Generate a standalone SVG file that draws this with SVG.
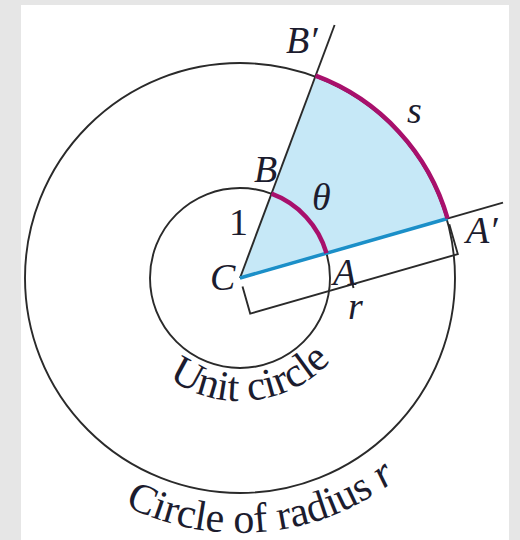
<svg xmlns="http://www.w3.org/2000/svg" width="520" height="540" viewBox="0 0 520 540">
<style>
.ln{fill:none;stroke:#2a2a2a;stroke-width:1.9}
.arc{fill:none;stroke:#a8106c;stroke-width:4.5;stroke-linecap:butt}
.lbl{font-family:"Liberation Serif","Times New Roman",serif;font-size:38px;fill:#1c1c2e}
.cv{font-size:42px}
.it{font-style:italic}
</style>
<defs>
<path id="pUnit" d="M124.4,320.1 A123,123 0 0 0 361.8,295.1"/>
<path id="pOuter" d="M19.2,405.5 A255,255 0 0 0 481.1,361"/>
</defs>
<rect x="0" y="0" width="520" height="540" fill="#e6e6e6"/>
<rect x="21" y="5" width="488" height="535" fill="#ffffff"/>
<g id="sector">
<path d="M240,278 L447.6,218.5 A216,216 0 0 0 315.6,75.7 Z" fill="#c6e8f7"/>
</g>
<g id="circles">
<circle id="unit-circle" cx="240" cy="278" r="90" class="ln"/>
<circle id="outer-circle" cx="240" cy="278" r="215" class="ln"/>
</g>
<g id="connectors">
<line x1="240" y1="278" x2="334.6" y2="25" class="ln"/>
<line x1="240" y1="278" x2="503" y2="202.7" class="ln"/>
<polyline points="242.5,286.6 250.2,313.6 457.8,254.1 449.3,224.3" class="ln"/>
<line x1="352.3" y1="283" x2="353.5" y2="288" class="ln" stroke-width="2.5"/>
<line x1="240" y1="278" x2="447.6" y2="218.5" fill="none" stroke="#1b8fc8" stroke-width="3.5"/>
<path d="M447.6,218.5 A216,216 0 0 0 315.6,75.7" class="arc"/>
<path d="M326.5,253.2 A90,90 0 0 0 271.5,193.7" class="arc"/>
</g>
<g id="labels">
<text class="lbl it" x="286" y="53">B′</text>
<text class="lbl it" x="254" y="182">B</text>
<text class="lbl it" x="312" y="210">θ</text>
<text class="lbl" x="229" y="235">1</text>
<text class="lbl it" x="210" y="290">C</text>
<text class="lbl it" x="333" y="285">A</text>
<text class="lbl it" x="348" y="319" font-size="35">r</text>
<text class="lbl it" x="407" y="123">s</text>
<text class="lbl it" x="466" y="243">A′</text>
<text class="lbl cv"><textPath href="#pUnit" startOffset="50%" text-anchor="middle">Unit circle</textPath></text>
<text class="lbl cv"><textPath href="#pOuter" startOffset="50%" text-anchor="middle">Circle of radius <tspan class="it">r</tspan></textPath></text>
</g>
</svg>
